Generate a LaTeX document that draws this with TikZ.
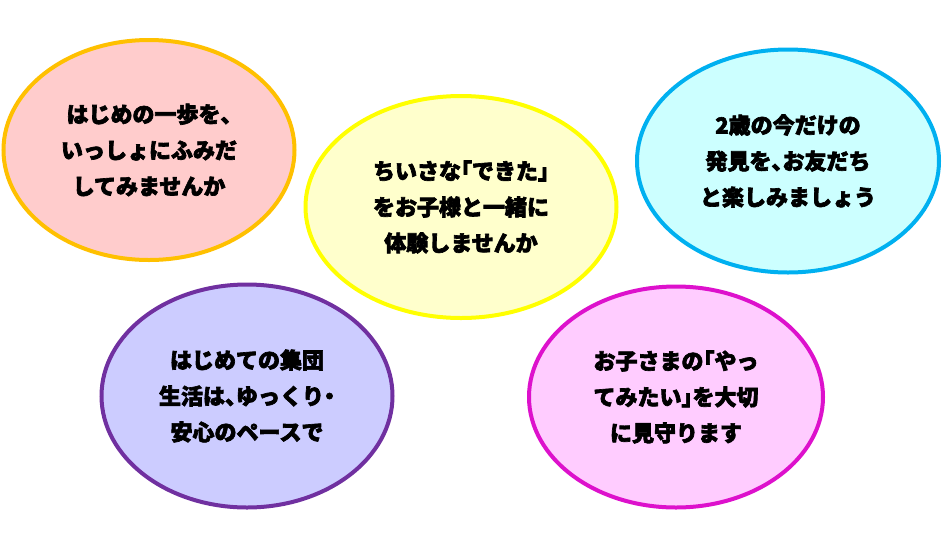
\documentclass[tikz,border=0pt]{standalone}
\usepackage{fontspec}
\usetikzlibrary{shapes.geometric}
\newfontfamily\jpfont{Noto Sans CJK JP}[RawFeature=+halt, FakeBold=3]
\definecolor{pinkfill}{HTML}{FFCCCC}
\definecolor{orangeline}{HTML}{FFC000}
\definecolor{yellowfill}{HTML}{FFFFCC}
\definecolor{yellowline}{HTML}{FFFF00}
\definecolor{cyanfill}{HTML}{CCFFFF}
\definecolor{cyanline}{HTML}{00B0F0}
\definecolor{purplefill}{HTML}{CCCCFF}
\definecolor{purpleline}{HTML}{7030A0}
\definecolor{magentafill}{HTML}{FFCCFF}
\definecolor{magentaline}{HTML}{DD11CC}
\tikzset{
    bubble/.style={ellipse, draw, line width=4pt, inner sep=0pt, align=center,
        font=\jpfont\bfseries\fontsize{22}{36}\selectfont}
}

\begin{document}
\begin{tikzpicture}[x=1pt,y=-1pt]
    \useasboundingbox (0,0) rectangle (943,547);
    \node [bubble, fill=pinkfill, draw=orangeline, minimum width=291pt, minimum height=220pt]
        (step1) at (149,150) {はじめの一歩を、\\いっしょにふみだ\\してみませんか};
    \node [bubble, fill=yellowfill, draw=yellowline, minimum width=311pt, minimum height=222pt]
        (dekita) at (461,207) {ちいさな「できた」\\をお子様と一緒に\\体験しませんか};
    \node [bubble, fill=cyanfill, draw=cyanline, minimum width=302pt, minimum height=223pt]
        (discover) at (788,161) {2歳の今だけの\\発見を、お友だち\\と楽しみましょう};
    \node [bubble, fill=purplefill, draw=purpleline, minimum width=291pt, minimum height=223pt]
        (group) at (247,396) {はじめての集団\\生活は、ゆっくり・\\安心のペースで};
    \node [bubble, fill=magentafill, draw=magentaline, minimum width=294pt, minimum height=221pt]
        (yattemi) at (676,397) {お子さまの「やっ\\てみたい」を大切\\に見守ります};
\end{tikzpicture}
\end{document}
